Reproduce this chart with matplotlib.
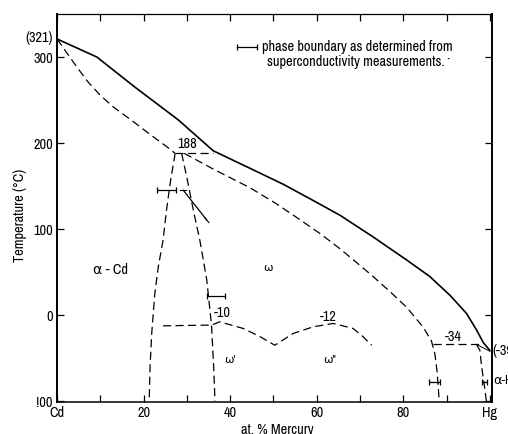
import matplotlib
matplotlib.use("Agg")
import matplotlib.pyplot as plt
from matplotlib import font_manager as fm

# ---- data (at.% Hg, temperature in degC) ----
liquidus_x = [0, 9.2, 18, 28, 36.1, 44.6, 52.3, 60, 65.4, 73, 80.8, 86.1, 90.8, 94.6, 96.9, 98.5, 100]
liquidus_T = [321, 300, 265, 227, 191, 170.6, 152, 131, 116, 91, 64, 45, 23, 2, -17, -32, -41]

cd_solidus_x = [0, 4.5, 7, 9.9, 13, 17.6, 21.5, 25.3, 27.3]
cd_solidus_T = [321, 289, 272, 256, 242, 225, 210, 196, 188]

left_solvus_x = [27.3, 26.2, 25.3, 24.5, 23.4, 22.6, 21.9, 21.5, 21.3]
left_solvus_T = [188, 155, 122, 87, 56, 25, -20, -60, -100]

right_solvus_x = [28.8, 30.2, 31.5, 33.0, 34.6, 35.7, 36.2, 36.5]
right_solvus_T = [188, 155, 122, 87, 41, -12, -60, -100]

peritectic1_x = [27.3, 36.1]
peritectic1_T = [188, 188]

omega_solidus_x = [29.4, 36, 44.6, 50.5, 56.1, 61, 65.4, 69, 73, 77, 80.8, 84.6, 86.5, 87.3, 87.8, 88.1, 88.3]
omega_solidus_T = [188, 170, 148, 130, 111, 94, 77, 62, 45, 27, 9, -14, -30, -45, -65, -85, -100]

peritectic2_x = [86.9, 97.7]
peritectic2_T = [-34, -34]

hg_solvus_x = [96.9, 97.7, 98.1, 98.7, 99.2]
hg_solvus_T = [-34, -41, -60, -80, -100]

hg_thin_x = [96.9, 100]
hg_thin_T = [-34, -42]

order_x = [24.5, 30, 35.7, 37.6, 43, 46.9, 50.3, 54.6, 59.2, 63.8, 68.4, 70.7, 72.7]
order_T = [-12.5, -12, -11.6, -7.8, -15.5, -25, -35, -21.3, -13.6, -9.7, -15.5, -25, -35]

# superconductivity measurement bars: centre x, temperature, half width
bar_x = [25.4, 36.7, 87.3, 98.8]
bar_T = [145, 22, -77.5, -77.5]
bar_hw = [2.2, 2.1, 1.3, 0.6]

slant_x = [29.2, 34.6]
slant_T = [145, 110.5]

legend_bar_x = [43.8]
legend_bar_T = [312]
legend_bar_hw = [2.3]

x_ticks = [0, 20, 40, 60, 80, 100]
x_ticklabels = ['Cd', '20', '40', '60', '80', 'Hg']
x_minor = [10, 30, 50, 70, 90]
y_ticks = [300, 200, 100, 0, -100]
y_ticklabels = ['300', '200', '100', '0', '!00']

# ---- pick a narrow sans font if one is installed ----
family = ['DejaVu Sans']
narrow = None
for f in fm.fontManager.ttflist:
    if ('Narrow' in f.name or 'Condensed' in f.name) and f.style == 'normal' \
            and str(f.weight) in ('400', 'normal', 'regular', 'book'):
        narrow = f.name
        break
if narrow is not None:
    family = [narrow, 'DejaVu Sans']
    plt.rcParams['font.family'] = family
else:
    has_cond = any(f.name == 'DejaVu Sans' and 'condensed' in str(f.stretch)
                   for f in fm.fontManager.ttflist)
    plt.rcParams['font.family'] = ['DejaVu Sans']
    if has_cond:
        plt.rcParams['font.stretch'] = 'condensed'

# ---- figure ----
fig = plt.figure(figsize=(5.08, 4.34), dpi=100)
ax = fig.add_axes([57/508, 1-402/434, (492-57)/508, (402-14)/434])
ax.set_xlim(0, 100.5)
ax.set_ylim(-101, 350)

# measure a font size so the note text has the reference width (~190 px)
probe = fig.text(0, 0, 'phase boundary as determined from', fontsize=10)
fig.canvas.draw()
w = probe.get_window_extent().width
probe.remove()
fs = max(7.0, min(11.0, 10 * 190.0 / w))

dash = (6.5, 3.5)
dkw = dict(color='black', lw=0.9, dashes=dash)

ax.plot(liquidus_x, liquidus_T, color='black', lw=1.2)
ax.plot(cd_solidus_x, cd_solidus_T, **dkw)
ax.plot(left_solvus_x, left_solvus_T, **dkw)
ax.plot(right_solvus_x, right_solvus_T, **dkw)
ax.plot(peritectic1_x, peritectic1_T, **dkw)
ax.plot(omega_solidus_x, omega_solidus_T, **dkw)
ax.plot(peritectic2_x, peritectic2_T, **dkw)
ax.plot(hg_solvus_x, hg_solvus_T, **dkw)
ax.plot(hg_thin_x, hg_thin_T, color='black', lw=0.7)
ax.plot(order_x, order_T, **dkw)

ax.errorbar(bar_x, bar_T, xerr=bar_hw, fmt='none', ecolor='black',
            elinewidth=0.9, capsize=2.5, capthick=0.9)
ax.errorbar(legend_bar_x, legend_bar_T, xerr=legend_bar_hw, fmt='none', ecolor='black',
            elinewidth=0.9, capsize=2.5, capthick=0.9)
ax.plot(slant_x, slant_T, color='black', lw=0.9)
ax.plot([slant_x[0]-0.7, slant_x[0]+0.7], [slant_T[0], slant_T[0]], color='black', lw=0.8)
ax.plot([slant_x[1]-0.5, slant_x[1]+0.5], [slant_T[1]+3, slant_T[1]-3], color='black', lw=0.8)

ax.text(47.3, 312, 'phase boundary as determined from', fontsize=fs, va='center', ha='left')
ax.text(48.5, 294.5, 'superconductivity measurements.', fontsize=fs, va='center', ha='left')
ax.text(90.0, 295, '·', fontsize=fs, va='center', ha='left')

ax.text(30.0, 199, '188', fontsize=fs, ha='center', va='center')
ax.text(38.1, 2, '-10', fontsize=fs, ha='center', va='center')
ax.text(62.6, -2, '-12', fontsize=fs, ha='center', va='center')
ax.text(91.5, -26, '-34', fontsize=fs, ha='center', va='center')
ax.text(12.4, 52, 'α - Cd', fontsize=fs, ha='center', va='center')
ax.text(48.7, 55, 'ω', fontsize=fs*0.8, ha='center', va='center')
ax.text(40, -52, "ω'", fontsize=fs*0.8, ha='center', va='center')
ax.text(63, -52, 'ω"', fontsize=fs*0.8, ha='center', va='center')
ax.text(100.5, -42, '(-39)', fontsize=fs, ha='left', va='center', clip_on=False)
ax.text(100.8, -75.5, 'α-Hg', fontsize=fs*0.9, ha='left', va='center', clip_on=False)
ax.text(-0.9, 322, '(321)', fontsize=fs, ha='right', va='center', clip_on=False)

ax.set_xticks(x_ticks)
ax.set_xticklabels(x_ticklabels, fontsize=fs)
ax.set_xticks(x_minor, minor=True)
ax.set_yticks(y_ticks)
ax.set_yticklabels(y_ticklabels, fontsize=fs)
ax.tick_params(axis='both', which='both', direction='in', length=5, width=0.9,
               top=True, right=True, pad=3)
ax.spines['left'].set_linewidth(1.4)
ax.spines['right'].set_linewidth(1.4)
ax.spines['bottom'].set_linewidth(1.1)
ax.spines['top'].set_linewidth(0.9)

fig.text(20/508, 1-215/434, 'Temperature (°C)', rotation=90, ha='center', va='center', fontsize=fs)
fig.text(277/508, 1-430/434, 'at. % Mercury', ha='center', va='center', fontsize=fs)

fig.savefig('out.png', dpi=100)
